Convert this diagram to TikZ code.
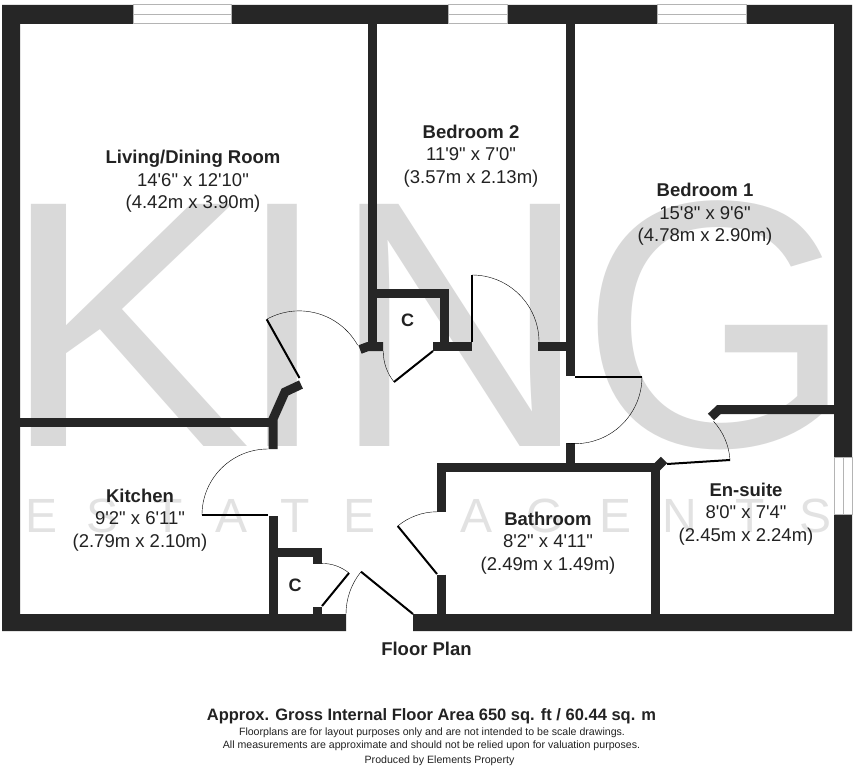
\documentclass[tikz,border=0pt]{standalone}
\usepackage{fontspec}
\setmainfont{Liberation Sans}[Ligatures=TeXOff]
\usepackage{xcolor}
\usepackage{tikz}
\usetikzlibrary{positioning}
\definecolor{wallgrey}{HTML}{262626}
\definecolor{markgrey}{HTML}{D9D9D9}
\definecolor{lettergrey}{HTML}{E2E2E2}
\definecolor{panegrey}{HTML}{B4B4B4}
\definecolor{textgrey}{HTML}{222222}

\begin{document}
\begin{tikzpicture}[x=1pt,y=-1pt,
	wall/.style={draw=wallgrey,line width=9pt,miter limit=4},
	leaf/.style={draw=black,line width=2pt},
	swing/.style={draw=black,line width=0.4pt},
	pane/.style={draw=panegrey,fill=white,line width=1pt},
	roomlabel/.style={align=center,inner sep=0pt,text=textgrey,font=\fontsize{18.5}{22.7}\selectfont},
	cupboardlabel/.style={inner sep=0pt,text=textgrey,font=\fontsize{18}{20}\selectfont\bfseries},
	kingletter/.style={anchor=base,inner sep=0pt,text=markgrey,transform shape,font=\fontsize{352}{352}\selectfont},
	agentletter/.style={anchor=base,inner sep=0pt,text=lettergrey,font=\fontsize{48}{48}\selectfont},
	smallprint/.style={anchor=base,inner sep=0pt,text=textgrey,font=\fontsize{10.6}{13}\selectfont}]
	\useasboundingbox (0,0) rectangle (856,768);
	\fill[white] (0,0) rectangle (856,768);
	\node at (126,446) (markK) [kingletter,xscale=1.07] {K};
	\node at (282.5,446) (markI) [kingletter,xscale=0.9] {I};
	\node at (460,446) (markN) [kingletter,xscale=1.02] {N};
	\node at (717,446) (markG) [kingletter] {G};
	\node at (42,532) (estE) [agentletter] {E};
	\node at (103,532) (estS) [agentletter] {S};
	\node at (168,532) (estT) [agentletter] {T};
	\node at (232,532) (estA) [agentletter] {A};
	\node at (295,532) (estTb) [agentletter] {T};
	\node at (360,532) (estEb) [agentletter] {E};
	\node at (477,532) (ageA) [agentletter] {A};
	\node at (545,532) (ageG) [agentletter] {G};
	\node at (615,532) (ageE) [agentletter] {E};
	\node at (680,532) (ageN) [agentletter] {N};
	\node at (750,532) (ageT) [agentletter] {T};
	\node at (815,532) (ageS) [agentletter] {S};
	\fill[wallgrey] (346,631) -- (2,631) -- (2,5) -- (852,5) -- (852,631) -- (413,631) -- (413,614) -- (834,614) -- (834,24) -- (20,24) -- (20,614) -- (346,614) -- cycle;
	\draw[pane] (133,5) rectangle (231,24); \draw[pane] (133,14.5) -- (231,14.5);
	\draw[pane] (448,5) rectangle (507,24); \draw[pane] (448,14.5) -- (507,14.5);
	\draw[pane] (657,5) rectangle (746,24); \draw[pane] (657,14.5) -- (746,14.5);
	\draw[pane] (834,457) rectangle (852,514); \draw[pane] (843,457) -- (843,514);
	\draw[wall] (20,422.5) -- (273,422.5);
	\draw[wall] (273,449) -- (273,419) -- (285,392) -- (301,384.5);
	\draw[wall] (273,516) -- (273,614);
	\draw[wall] (273,552) -- (317.5,552) -- (317.5,564);
	\draw[wall] (317.5,606.5) -- (317.5,614);
	\draw[wall] (372.5,24) -- (372.5,346);
	\draw[wall] (383,346.5) -- (368,346.5) -- (360,349.5);
	\draw[wall] (368,293.5) -- (444.5,293.5) -- (444.5,342);
	\draw[wall] (433,346.5) -- (472,346.5);
	\draw[wall] (538,346.5) -- (566,346.5);
	\draw[wall] (570.5,24) -- (570.5,376);
	\draw[wall] (570.5,443) -- (570.5,463);
	\draw[wall] (441.5,511.5) -- (441.5,467.5) -- (655,467.5) -- (655,614);
	\draw[wall] (441.5,574.5) -- (441.5,614);
	\draw[wall] (654,470) -- (664,460);
	\draw[wall] (834,409.5) -- (719,409.5) -- (711,417);
	\draw[leaf] (299.5,378) -- (266.7,319.3);
	\draw[swing] (266.7,319.3) arc[start angle=241,end angle=330.7,radius=67];
	\draw[leaf] (201.7,515) -- (268,515);
	\draw[swing] (202,515) arc[start angle=180,end angle=270,radius=66];
	\draw[leaf] (322,606) -- (349,573);
	\draw[swing] (322,563.4) arc[start angle=270,end angle=309.3,radius=42.6];
	\draw[leaf] (413,614) -- (361,571.7);
	\draw[swing] (346,614) arc[start angle=180,end angle=219,radius=67];
	\draw[leaf] (437,574) -- (397.7,526);
	\draw[swing] (397.7,526) arc[start angle=230.4,end angle=270,radius=62];
	\draw[leaf] (667,464) -- (730,460);
	\draw[swing] (730,460) arc[start angle=-3.6,end angle=-42.6,radius=63];
	\draw[leaf] (472.3,342) -- (472.3,275);
	\draw[swing] (472,275) arc[start angle=270,end angle=360,radius=67];
	\draw[leaf] (575,376.7) -- (642,376.7);
	\draw[swing] (642,376.7) arc[start angle=0,end angle=97,radius=67];
	\draw[leaf] (433,351) -- (394,382);
	\draw[swing] (383.2,351) arc[start angle=180,end angle=141.5,radius=49.8];
	\node at (193,181.5) (living) [roomlabel] {\textbf{Living/Dining Room}\\14'6" x 12'10"\\(4.42m x 3.90m)};
	\node at (471,156) (bedtwo) [roomlabel] {\textbf{Bedroom 2}\\11'9" x 7'0"\\(3.57m x 2.13m)};
	\node at (705,214.5) (bedone) [roomlabel] {\textbf{Bedroom 1}\\15'8" x 9'6"\\(4.78m x 2.90m)};
	\node at (140,520) (kitchen) [roomlabel] {\textbf{Kitchen}\\9'2" x 6'11"\\(2.79m x 2.10m)};
	\node at (548,543) (bathroom) [roomlabel] {\textbf{Bathroom}\\8'2" x 4'11"\\(2.49m x 1.49m)};
	\node at (746,514) (ensuite) [roomlabel] {\textbf{En-suite}\\8'0" x 7'4"\\(2.45m x 2.24m)};
	\node at (407.7,320) (cupboardA) [cupboardlabel] {C};
	\node at (295,585) (cupboardB) [cupboardlabel] {C};
	\node at (426.5,655.5) (floorplan) [anchor=base,inner sep=0pt,text=textgrey,font=\fontsize{18.5}{20}\selectfont\bfseries] {Floor Plan};
	\node at (431.5,720) (area) [anchor=base,inner sep=0pt,text=textgrey,font=\fontsize{16.5}{20}\selectfont\bfseries] {Approx. Gross Internal Floor Area 650 sq. ft / 60.44 sq. m};
	\node at (432,735) (noteA) [smallprint] {Floorplans are for layout purposes only and are not intended to be scale drawings.};
	\node at (431.5,748) (noteB) [smallprint] {All measurements are approximate and should not be relied upon for valuation purposes.};
	\node at (439.5,763) (producer) [smallprint] {Produced by Elements Property};
\end{tikzpicture}
\end{document}
